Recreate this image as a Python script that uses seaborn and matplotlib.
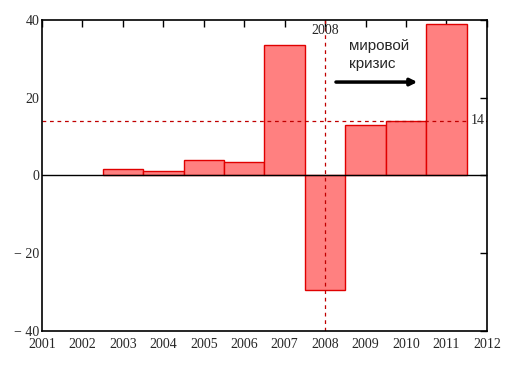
import matplotlib
matplotlib.use("Agg")
import matplotlib.pyplot as plt
import seaborn as sns

# data
years = [2003, 2004, 2005, 2006, 2007, 2008, 2009, 2010, 2011]
values = [1.7, 1.2, 4.0, 3.5, 33.4, -29.4, 12.9, 14.1, 38.8]
xticks = list(range(2001, 2013))
yticks = [-40, -20, 0, 20, 40]
ytick_labels = ["\u2212 40", "\u2212 20", "0", "20", "40"]
crisis_year = 2008
mean_level = 14

sns.set_style("white")
plt.rcParams["font.family"] = ["Liberation Serif", "DejaVu Serif"]

fig = plt.figure(figsize=(5.13, 3.67), dpi=100)
ax = fig.add_axes([0.082, 0.098, 0.867, 0.848])

sns.barplot(x=years, y=values, native_scale=True, width=1, color="#ff8080",
            saturation=1, edgecolor="#e00000", linewidth=1, ax=ax)

ax.axhline(0, color="black", lw=1)
ax.axhline(mean_level, color="#c00000", lw=0.9, ls=(0, (3, 3)))
ax.axvline(crisis_year, color="#c00000", lw=0.9, ls=(0, (3, 3)))

ax.set_xlim(2001, 2012)
ax.set_ylim(-40, 40)
ax.set_xticks(xticks)
ax.set_xticklabels([str(y) for y in xticks])
ax.set_yticks(yticks)
ax.set_yticklabels(ytick_labels)
ax.tick_params(direction="in", length=5, width=1, labelsize=10, pad=2,
               top=True, right=True, color="black")
ax.tick_params(axis="x", pad=5)
for s in ax.spines.values():
    s.set_visible(True)
    s.set_color("black")
    s.set_linewidth(1.2)

# labels for the two reference lines
ax.text(crisis_year, 39, str(crisis_year), ha="center", va="top", fontsize=10)
ax.text(2011.95, mean_level, str(mean_level), ha="right", va="center", fontsize=10,
        bbox=dict(facecolor="white", edgecolor="none", pad=0.5))

ax.text(2008.58, 35, "мировой\nкризис", ha="left", va="top", fontsize=11,
        family=["Liberation Sans", "DejaVu Sans"], linespacing=1.3)
ax.annotate("", xy=(2010.35, 24), xytext=(2008.2, 24),
            arrowprops=dict(arrowstyle="-|>", color="black", lw=2.5,
                            mutation_scale=10))

ax.set_xlabel("")
ax.set_ylabel("")
fig.savefig("out.png", dpi=100)
